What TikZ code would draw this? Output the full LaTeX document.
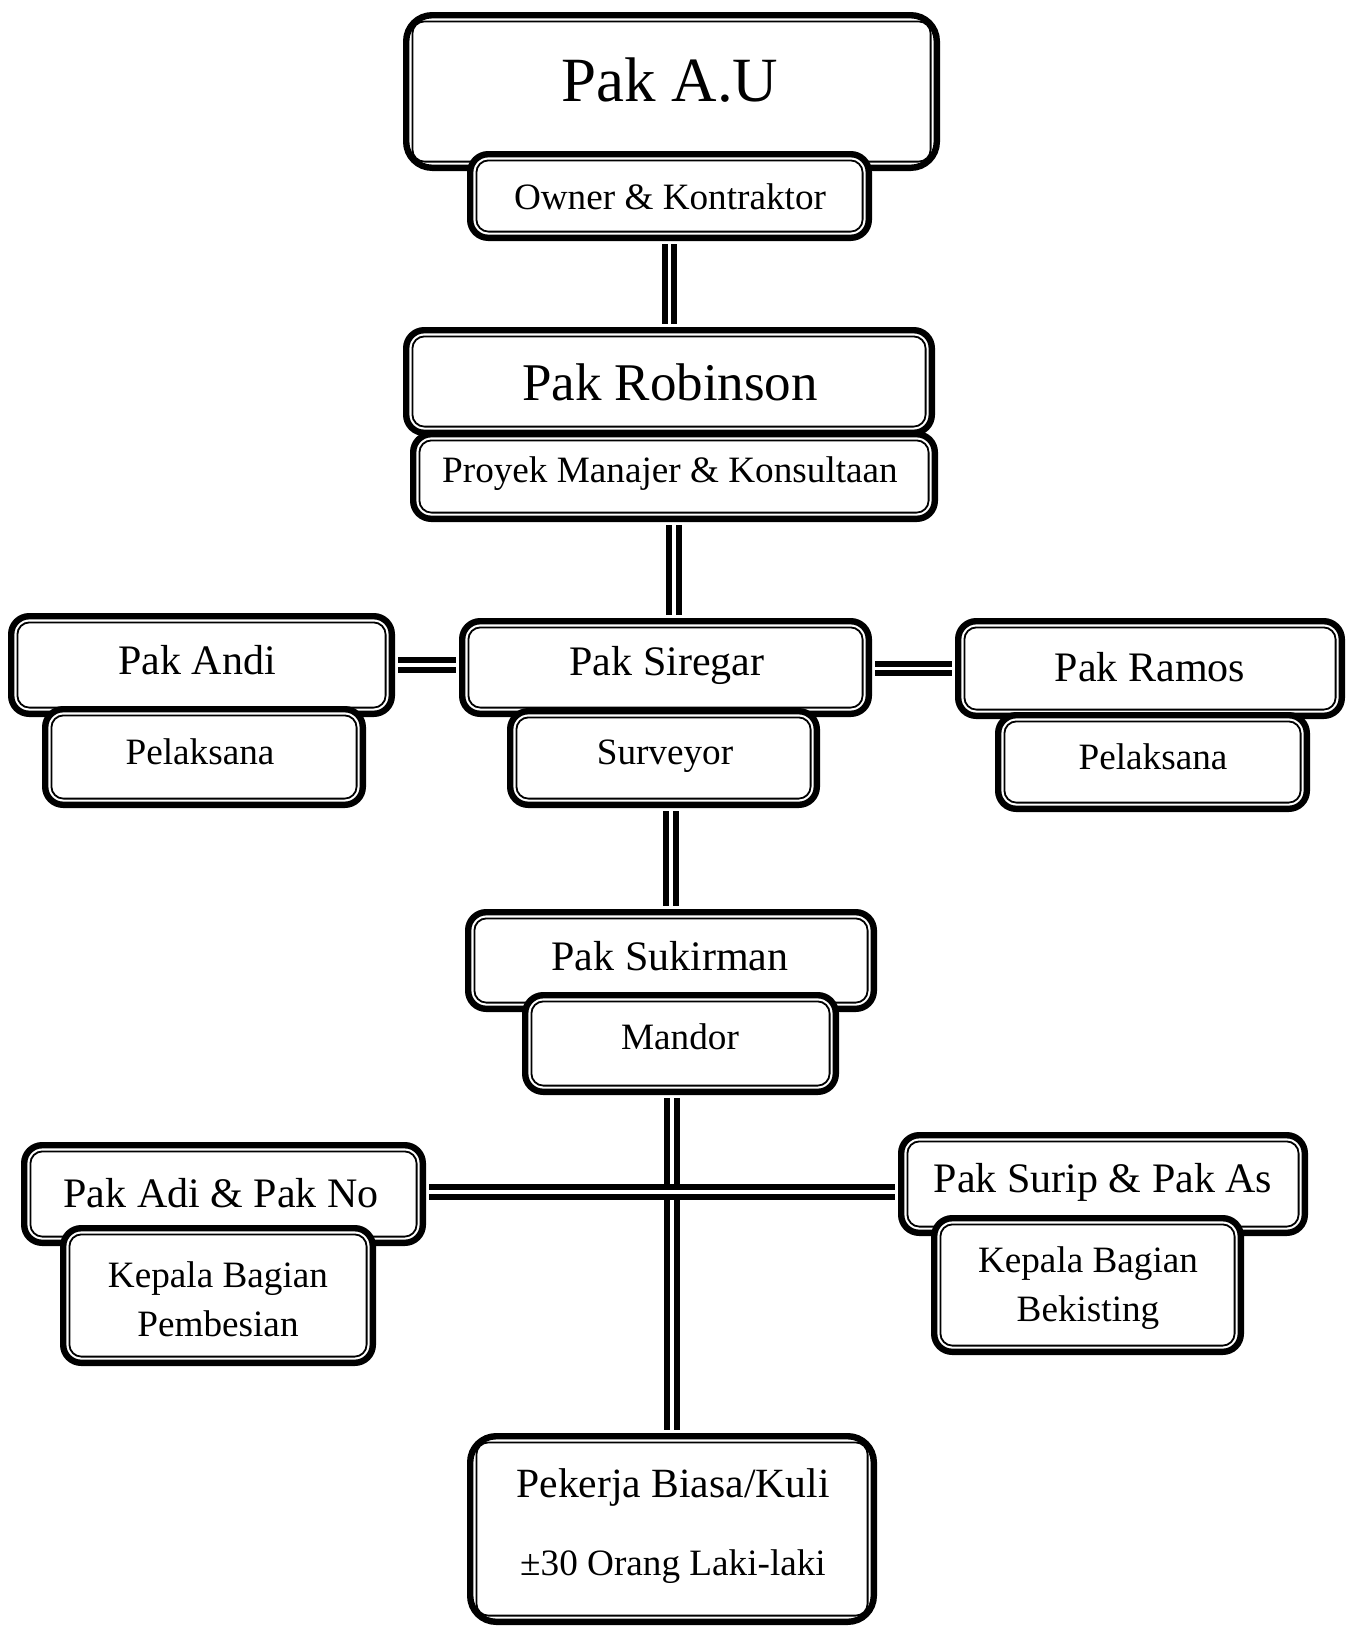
\documentclass[tikz,border=0pt]{standalone}
\usepackage{fontspec}
\setmainfont{Liberation Serif}
\usetikzlibrary{fit}
\tikzset{
  box/.style={draw=black, line width=3.2pt, fill=white, rounded corners=9pt, inner sep=-1.6pt,
    path picture={\draw[line width=0.9pt, rounded corners=6pt]
      ([shift={(3.1pt,3.1pt)}]path picture bounding box.south west) rectangle
      ([shift={(-3.1pt,-3.1pt)}]path picture bounding box.north east);}},
  bigbox/.style={box, rounded corners=13pt},
  conn/.style={draw=black, line width=3.1pt, double=white, double distance=1.6pt},
  ttl/.style={font=\fontsize{21}{25}\selectfont, inner sep=0pt},
  sub/.style={font=\fontsize{18.6}{24.5}\selectfont, inner sep=0pt, align=center},
}
\begin{document}
\begin{tikzpicture}[x=0.5pt, y=-0.5pt]
\useasboundingbox (0,0) rectangle (1351,1628);
% boxes
\node[bigbox, fit={(403,12) (940,171)}] (au) {};
\node[box, fit={(467,151) (872,241)}] (owner) {};
\node[box, fit={(403,327) (935,436)}] (rob) {};
\node[box, fit={(410,431) (938,522)}] (proyek) {};
\node[box, fit={(459,618) (872,717)}] (sir) {};
\node[box, fit={(507,708) (820,808)}] (surv) {};
\node[box, fit={(8,613) (395,717)}] (andi) {};
\node[box, fit={(42,706) (366,808)}] (pelL) {};
\node[box, fit={(955,618) (1345,719)}] (ramos) {};
\node[box, fit={(995,712) (1310,812)}] (pelR) {};
\node[box, fit={(465,909) (877,1012)}] (suk) {};
\node[box, fit={(522,992) (839,1095)}] (mandor) {};
\node[box, fit={(21,1142) (426,1246)}] (adi) {};
\node[box, fit={(60,1225) (376,1366)}] (kepL) {};
\node[box, fit={(898,1132) (1308,1236)}] (surip) {};
\node[box, fit={(931,1215) (1244,1355)}] (kepR) {};
\node[bigbox, fit={(467,1433) (877,1625)}] (pek) {};

% connectors
\draw[conn] ([yshift=-1.6pt]owner.south) -- ([yshift=1.6pt]owner.south |- rob.north);
\draw[conn] ([yshift=-1.6pt]proyek.south) -- ([yshift=1.6pt]proyek.south |- sir.north);
\draw[conn] ([yshift=-1.6pt]suk.north |- surv.south) -- ([yshift=1.6pt]suk.north);
\draw[conn] ([yshift=-1.6pt]pek.north |- mandor.south) -- ([yshift=1.6pt]pek.north);
\draw[conn] ([xshift=1.6pt]andi.east) -- ([xshift=-1.6pt]andi.east -| sir.west);
\draw[conn] ([xshift=1.6pt]sir.east |- ramos.west) -- ([xshift=-1.6pt]ramos.west);
\draw[conn] ([xshift=1.6pt]adi.east |- 0,1192) -- ([xshift=-1.6pt]surip.west |- 0,1192);

% texts
\node[font=\fontsize{31.5}{36}\selectfont, inner sep=0pt] (tau) at (670,80) {Pak A.U};
\node[sub] (towner) at (670,197) {Owner \& Kontraktor};
\node[font=\fontsize{26.5}{30}\selectfont, inner sep=0pt] (trob) at (670,382) {Pak Robinson};
\node[sub] (tproyek) at (670,474) {Proyek Manajer \& Konsultaan};
\node[ttl] (tandi) at (197,660) {Pak Andi};
\node[sub] (tpelL) at (200,752) {Pelaksana};
\node[ttl] (tsir) at (667,665) {Pak Siregar};
\node[sub] (tsurv) at (665,756) {Surveyor};
\node[ttl] (tramos) at (1150,667) {Pak Ramos};
\node[sub] (tpelR) at (1153,757) {Pelaksana};
\node[ttl] (tsuk) at (670,956) {Pak Sukirman};
\node[sub] (tmandor) at (680,1037) {Mandor};
\node[ttl] (tadi) at (221,1193) {Pak Adi \& Pak No};
\node[sub] (tkepL) at (218,1299) {Kepala Bagian\\Pembesian};
\node[ttl] (tsurip) at (1103,1182) {Pak Surip \& Pak As};
\node[sub] (tkepR) at (1088,1288) {Kepala Bagian\\Bekisting};
\node[font=\fontsize{20.8}{24}\selectfont, inner sep=0pt] (tpek) at (673,1487) {Pekerja Biasa/Kuli};
\node[sub] (tpek2) at (673,1567) {±30 Orang Laki-laki};
\end{tikzpicture}
\end{document}
